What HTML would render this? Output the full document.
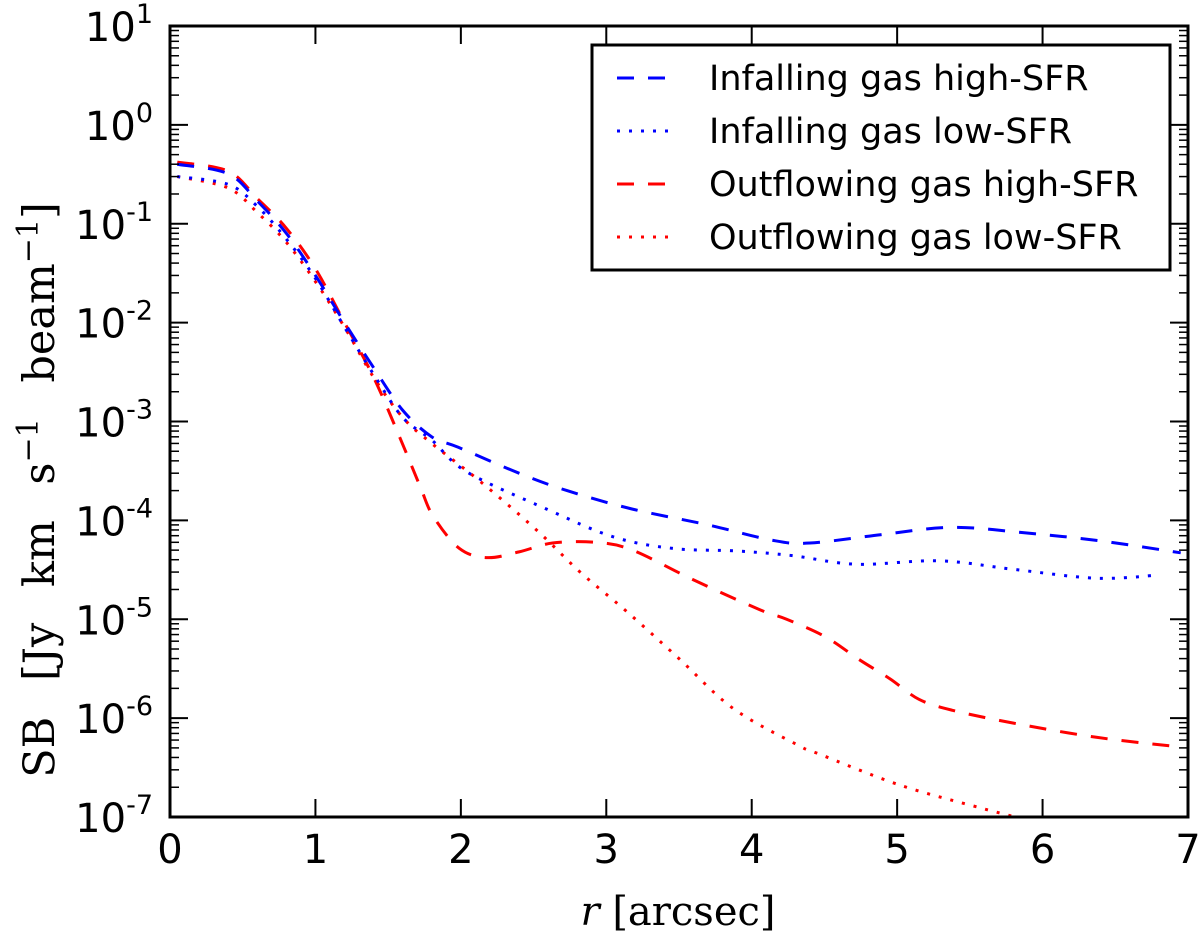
<!DOCTYPE html>
<html><head><meta charset="utf-8"><style>
html,body{margin:0;padding:0;background:#fff;}
svg text{font-family:"DejaVu Sans","Liberation Sans",sans-serif;}
</style></head><body>
<svg id="chart" width="1200" height="934" xmlns="http://www.w3.org/2000/svg">
<g id="marks"></g>
<g id="axes"></g>
<text x="678" y="925" text-anchor="middle" font-size="40" style="font-family:'DejaVu Serif','Liberation Serif',serif"><tspan font-style="italic">r</tspan> [arcsec]</text>
<text transform="translate(54,490) rotate(-90)" text-anchor="middle" font-size="43" word-spacing="22" style="font-family:'DejaVu Serif','Liberation Serif',serif">SB [Jy km s<tspan dy="-16" font-size="30">−1</tspan><tspan dy="16"> beam</tspan><tspan dy="-16" font-size="30">−1</tspan><tspan dy="16">]</tspan></text>
<g>
<rect x="592" y="45" width="578" height="225" fill="#fff" stroke="#000" stroke-width="3"/>
<line x1="617" y1="78" x2="668" y2="78" stroke="#0000ff" stroke-width="3" stroke-dasharray="17,14"/>
<text x="709" y="90" font-size="35">Infalling gas high-SFR</text>
<line x1="617" y1="131" x2="668" y2="131" stroke="#0000ff" stroke-width="3" stroke-dasharray="3,9"/>
<text x="709" y="143" font-size="35">Infalling gas low-SFR</text>
<line x1="617" y1="184" x2="668" y2="184" stroke="#ff0000" stroke-width="3" stroke-dasharray="17,14"/>
<text x="709" y="196" font-size="35">Outflowing gas high-SFR</text>
<line x1="617" y1="237" x2="668" y2="237" stroke="#ff0000" stroke-width="3" stroke-dasharray="3,9"/>
<text x="709" y="249" font-size="35">Outflowing gas low-SFR</text>
</g>
</svg>
<script>
const rInfallHigh=[0.05,0.4,0.6,0.8,1.0,1.2,1.4,1.6,1.8,1.98,2.4,2.73,3.18,3.7,4.14,4.4,4.9,5.38,5.91,6.4,6.95];
const sbInfallHigh=[0.4,0.32,0.17,0.08,0.03,0.01,0.0035,0.0013,7e-4,5.5e-4,3e-4,2.0e-4,1.3e-4,9e-5,6.3e-5,5.9e-5,7.2e-5,8.5e-5,7.4e-5,6.2e-5,4.7e-5];
const rInfallLow=[0.05,0.4,0.6,0.8,1.0,1.2,1.4,1.6,1.8,2.04,2.59,3.05,3.46,3.9,4.28,4.72,5.29,5.8,6.37,6.8];
const sbInfallLow=[0.3,0.25,0.15,0.07,0.028,0.009,0.003,0.0011,6.5e-4,3.1e-4,1.3e-4,6.8e-5,5.2e-5,4.9e-5,4.4e-5,3.6e-5,3.9e-5,3.2e-5,2.6e-5,2.8e-5];
const rOutHigh=[0.05,0.4,0.6,0.8,1.0,1.2,1.4,1.58,1.72,1.81,1.99,2.18,2.4,2.63,2.93,3.18,3.6,4.05,4.24,4.51,4.74,4.95,5.15,5.38,5.8,6.37,6.95];
const sbOutHigh=[0.42,0.34,0.18,0.09,0.035,0.01,0.0028,6.9e-4,2.2e-4,1.1e-4,5.2e-5,4.2e-5,4.8e-5,5.9e-5,6e-5,5.0e-5,2.5e-5,1.26e-5,1.0e-5,6.6e-6,3.9e-6,2.5e-6,1.55e-6,1.2e-6,8.9e-7,6.4e-7,5.1e-7];
const rOutLow=[0.05,0.4,0.6,0.8,1.0,1.2,1.4,1.6,1.8,2.13,2.52,2.82,3.14,3.5,3.87,4.31,4.47,5.02,5.57,5.85];
const sbOutLow=[0.3,0.23,0.13,0.065,0.026,0.009,0.0028,0.0011,6e-4,2.5e-4,8e-5,3e-5,1.2e-5,4e-6,1.26e-6,5.4e-7,4.3e-7,2.1e-7,1.24e-7,9.7e-8];
const xTicks=[0,1,2,3,4,5,6,7];
const yExps=[1,0,-1,-2,-3,-4,-5,-6,-7];

const L=170,R=1188,T=26,B=817;
function xs(r){return L+(r-0)/7*(R-L);}
function ys(v){return T+(1-Math.log10(v))/8*(B-T);}
const NS='http://www.w3.org/2000/svg';
const marks=document.getElementById('marks');
const axes=document.getElementById('axes');
function el(tag,attrs,parent){const e=document.createElementNS(NS,tag);for(const k in attrs)e.setAttribute(k,attrs[k]);parent.appendChild(e);return e;}
const defs=el('defs',{},marks);
const cp=el('clipPath',{id:'clip'},defs);
el('rect',{x:L,y:T,width:R-L,height:B-T},cp);
function smoothPath(rs,vs){
  const p=rs.map((r,i)=>[xs(r),ys(vs[i])]);
  let d='M'+p[0][0]+','+p[0][1];
  for(let i=0;i<p.length-1;i++){
    const p0=p[i-1]||p[i],p1=p[i],p2=p[i+1],p3=p[i+2]||p2;
    const c1=[p1[0]+(p2[0]-p0[0])/6,p1[1]+(p2[1]-p0[1])/6];
    const c2=[p2[0]-(p3[0]-p1[0])/6,p2[1]-(p3[1]-p1[1])/6];
    d+=' C'+c1[0]+','+c1[1]+' '+c2[0]+','+c2[1]+' '+p2[0]+','+p2[1];
  }
  return d;
}
const series=[
 [rOutLow,sbOutLow,'#ff0000','3,9','line-outflow-low'],
 [rOutHigh,sbOutHigh,'#ff0000','17,14','line-outflow-high'],
 [rInfallLow,sbInfallLow,'#0000ff','3,9','line-infall-low'],
 [rInfallHigh,sbInfallHigh,'#0000ff','17,14','line-infall-high']
];
series.forEach(s=>{
  const p=el('path',{d:smoothPath(s[0],s[1]),fill:'none',stroke:s[2],'stroke-width':3,'stroke-dasharray':s[3],'clip-path':'url(#clip)'},marks);
  
  
});
const fr=el('rect',{x:L,y:T,width:R-L,height:B-T,fill:'none',stroke:'#000','stroke-width':3},axes);


xTicks.forEach(t=>{
  const x=xs(t);
  el('line',{x1:x,y1:B,x2:x,y2:B-18,stroke:'#000','stroke-width':2},axes);
  el('line',{x1:x,y1:T,x2:x,y2:T+18,stroke:'#000','stroke-width':2},axes);
  const tx=el('text',{x:x,y:B+46,'text-anchor':'middle','font-size':40},axes);
  tx.textContent=t;
  
  
});
yExps.forEach(e=>{
  const y=ys(Math.pow(10,e));
  el('line',{x1:L,y1:y,x2:L+18,y2:y,stroke:'#000','stroke-width':2},axes);
  el('line',{x1:R,y1:y,x2:R-18,y2:y,stroke:'#000','stroke-width':2},axes);
  if(e>-7){for(let m=2;m<10;m++){const ym=ys(m*Math.pow(10,e-1));
    el('line',{x1:L,y1:ym,x2:L+9,y2:ym,stroke:'#000','stroke-width':1.5},axes);
    el('line',{x1:R,y1:ym,x2:R-9,y2:ym,stroke:'#000','stroke-width':1.5},axes);}}
  const tx=el('text',{x:L-17,y:y+15,'text-anchor':'end','font-size':40},axes);
  tx.textContent='10';
  const sup=el('tspan',{dy:-18,'font-size':27},tx);
  sup.textContent=String(e);
  
  
});
</script>
</body></html>
